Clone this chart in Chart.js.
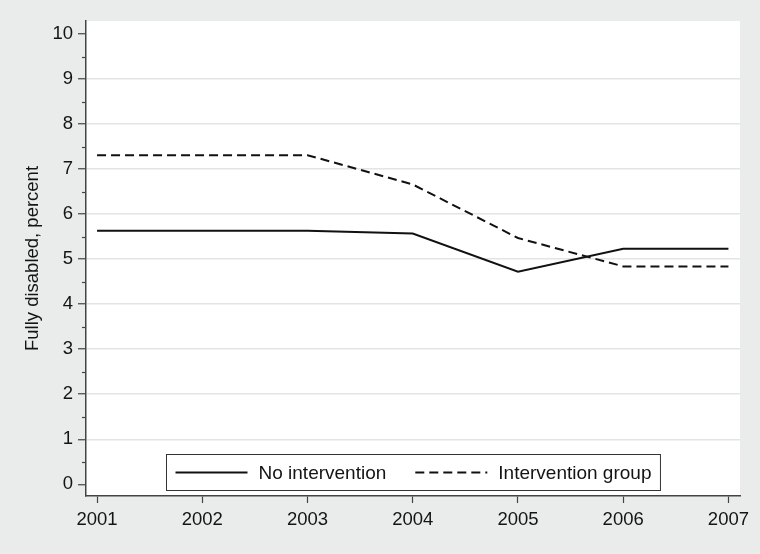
<!DOCTYPE html>
<html>
<head>
<meta charset="utf-8">
<script src="https://cdn.jsdelivr.net/npm/chart.js@4"></script>
<style>
  html, body { margin: 0; padding: 0; background: #eaebeb; }
  #wrap { width: 760px; height: 554px; }
</style>
</head>
<body>
<div id="wrap"><canvas id="chart" width="760" height="554"></canvas></div>
<script>
// Data
const years = [2001, 2002, 2003, 2004, 2005, 2006, 2007];
const noIntervention = [5.63, 5.63, 5.63, 5.57, 4.72, 5.23, 5.23];
const interventionGroup = [7.31, 7.31, 7.31, 6.66, 5.47, 4.84, 4.84];
const seriesLabels = ['No intervention', 'Intervention group'];
const yTicks = [0, 1, 2, 3, 4, 5, 6, 7, 8, 9, 10];
const yMinorTicks = [0.5, 1.5, 2.5, 3.5, 4.5, 5.5, 6.5, 7.5, 8.5, 9.5];

const FONT = "'Liberation Sans', Arial, sans-serif";
const AXIS_COLOR = '#444';
const TEXT_COLOR = '#141414';

// White plot background
const plotBackground = {
    id: 'plotBackground',
    beforeDraw(chart) {
        const { ctx, chartArea } = chart;
        ctx.save();
        ctx.fillStyle = '#ffffff';
        ctx.fillRect(chartArea.left, chartArea.top, chartArea.right - chartArea.left, chartArea.bottom - chartArea.top);
        ctx.restore();
    }
};

// Short minor ticks on the y axis
const minorTicks = {
    id: 'minorTicks',
    afterDraw(chart) {
        const { ctx, chartArea } = chart;
        const y = chart.scales.y;
        ctx.save();
        ctx.strokeStyle = AXIS_COLOR;
        ctx.lineWidth = 1.2;
        yMinorTicks.forEach(v => {
            const py = Math.round(y.getPixelForValue(v)) + 0.5;
            ctx.beginPath();
            ctx.moveTo(chartArea.left - 4, py);
            ctx.lineTo(chartArea.left, py);
            ctx.stroke();
        });
        ctx.restore();
    }
};

// Legend box inside the plot, at the bottom
const insideLegend = {
    id: 'insideLegend',
    afterDraw(chart) {
        const { ctx, chartArea } = chart;
        const sampleLen = 72;
        const textGap = 11;
        const itemGap = 29;
        const padX = 9;
        const boxH = 36;
        ctx.save();
        ctx.font = '19px ' + FONT;
        const items = chart.data.datasets.map(ds => ({
            label: ds.label,
            dash: ds.borderDash || [],
            width: ctx.measureText(ds.label).width
        }));
        let total = padX * 2;
        items.forEach((it, i) => {
            total += sampleLen + textGap + it.width + (i > 0 ? itemGap : 0);
        });
        const cx = (chartArea.left + chartArea.right) / 2;
        const left = Math.round(cx - total / 2) + 0.5;
        const bottom = chartArea.bottom - 6;
        const top = bottom - boxH;
        ctx.fillStyle = '#ffffff';
        ctx.fillRect(left, top, total, boxH);
        ctx.strokeStyle = '#333';
        ctx.lineWidth = 1;
        ctx.strokeRect(left, top + 0.5, total, boxH);
        const midY = top + boxH / 2 + 0.5;
        let x = left + padX;
        items.forEach((it, i) => {
            if (i > 0) x += itemGap;
            ctx.strokeStyle = '#111';
            ctx.lineWidth = 2;
            ctx.setLineDash(it.dash);
            ctx.beginPath();
            ctx.moveTo(x, midY);
            ctx.lineTo(x + sampleLen, midY);
            ctx.stroke();
            ctx.setLineDash([]);
            x += sampleLen + textGap;
            ctx.fillStyle = TEXT_COLOR;
            ctx.textBaseline = 'middle';
            ctx.textAlign = 'left';
            ctx.fillText(it.label, x, midY + 1);
            x += it.width;
        });
        ctx.restore();
    }
};

const ctx = document.getElementById('chart').getContext('2d');
new Chart(ctx, {
    type: 'line',
    data: {
        datasets: [
            {
                label: seriesLabels[0],
                data: years.map((yr, i) => ({ x: yr, y: noIntervention[i] })),
                borderColor: '#111',
                borderWidth: 2,
                pointRadius: 0,
                tension: 0,
                fill: false
            },
            {
                label: seriesLabels[1],
                data: years.map((yr, i) => ({ x: yr, y: interventionGroup[i] })),
                borderColor: '#111',
                borderWidth: 2,
                borderDash: [9, 5],
                pointRadius: 0,
                tension: 0,
                fill: false
            }
        ]
    },
    options: {
        responsive: false,
        animation: false,
        layout: { padding: { top: 21, right: 20, left: 0, bottom: 0 } },
        plugins: {
            legend: { display: false },
            tooltip: { enabled: false }
        },
        scales: {
            x: {
                type: 'linear',
                min: 2000.895,
                max: 2007.11,
                afterBuildTicks: scale => { scale.ticks = years.map(v => ({ value: v })); },
                afterFit: scale => { scale.height = 58; },
                border: { display: true, color: AXIS_COLOR, width: 1.5 },
                grid: {
                    drawOnChartArea: false,
                    drawTicks: true,
                    tickLength: 7,
                    tickColor: AXIS_COLOR,
                    tickWidth: 1.2
                },
                ticks: {
                    color: TEXT_COLOR,
                    font: { family: FONT, size: 18.5 },
                    padding: 6,
                    maxRotation: 0,
                    callback: v => String(v)
                }
            },
            y: {
                type: 'linear',
                min: -0.26,
                max: 10.29,
                afterBuildTicks: scale => { scale.ticks = yTicks.map(v => ({ value: v })); },
                afterFit: scale => { scale.width = 86; },
                border: { display: true, color: AXIS_COLOR, width: 1.5 },
                grid: {
                    drawTicks: true,
                    tickLength: 8,
                    tickColor: AXIS_COLOR,
                    tickWidth: 1.2,
                    lineWidth: 1.5,
                    color: c => (c.tick && c.tick.value > 0 && c.tick.value < 10) ? '#e3e4e4' : 'rgba(0,0,0,0)'
                },
                ticks: {
                    color: TEXT_COLOR,
                    font: { family: FONT, size: 18.5 },
                    padding: 5,
                    callback: v => String(v)
                },
                title: {
                    display: true,
                    text: 'Fully disabled, percent',
                    color: TEXT_COLOR,
                    font: { family: FONT, size: 18.5 },
                    padding: { top: 22, bottom: 0 }
                }
            }
        }
    },
    plugins: [plotBackground, minorTicks, insideLegend]
});
</script>
</body>
</html>
